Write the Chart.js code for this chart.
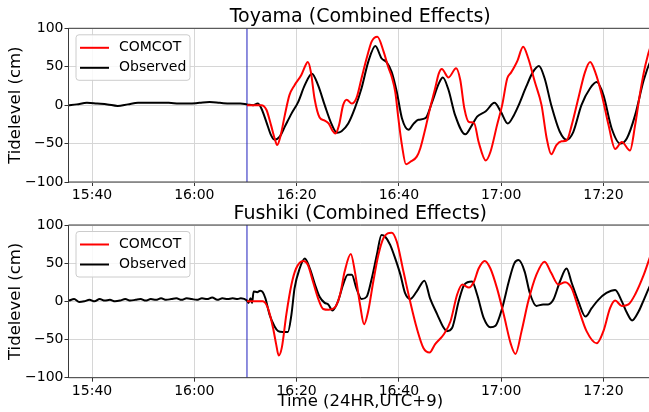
<!DOCTYPE html>
<html>
<head>
<meta charset="utf-8">
<script src="https://cdn.jsdelivr.net/npm/chart.js@4.4.1/dist/chart.umd.min.js"></script>
<style>
    body { margin: 0; background: #fff; }
    #wrap { position: relative; width: 649px; height: 412px; overflow: hidden; }
    canvas { position: absolute; left: 0; }
</style>
</head>
<body>
<div id="wrap">
    <canvas id="toyama" width="652" height="200" style="top:0"></canvas>
    <canvas id="fushiki" width="652" height="212" style="top:200px"></canvas>
</div>
<script>
// time is minutes after 15:00
const xTicks = [40, 60, 80, 100, 120, 140]
const yTicks = [-100, -50, 0, 50, 100]
const xMin = 35.4
const xMax = 149.5
const eventTime = 70.3
const seriesNames = ['COMCOT', 'Observed']

// [minute, cm]
const toyamaComcot = [
    [70.3, 0], [73.1, 0], [74.1, -6], [75.0, -26], [75.7, -43], [76.2, -52], [76.9, -39], [77.7, -13],
    [78.6, 13], [79.6, 26], [80.9, 39], [81.9, 54], [82.2, 56], [82.8, 43], [83.5, 9], [84.5, -16],
    [85.5, -20], [86.3, -24], [87.0, -33], [87.6, -37], [88.3, -26], [89.1, 0], [89.8, 7], [90.8, 2],
    [91.7, 9], [92.7, 35], [93.7, 61], [94.7, 83], [95.8, 89], [97.0, 70], [98.0, 48], [98.6, 37],
    [99.3, 17], [99.9, -17], [100.6, -52], [101.4, -77], [102.2, -74], [103.5, -67], [104.2, -56],
    [105.2, -30], [106.1, -4], [107.1, 22], [107.8, 41], [108.4, 47], [109.7, 36], [111.2, 48],
    [112.0, 33], [112.8, -4], [113.7, -22], [114.7, -23], [115.6, -48], [117.0, -72], [117.9, -61],
    [119.2, -26], [120.2, 0], [121.2, 35], [121.9, 42], [122.6, 50], [123.2, 58], [124.3, 76],
    [125.3, 61], [126.6, 30], [127.9, 0], [128.9, -43], [129.8, -64], [130.8, -52], [131.8, -47],
    [132.8, -46], [133.8, -26], [135.1, 9], [136.4, 43], [137.4, 56], [138.4, 43], [139.7, 13],
    [141.0, -26], [142.3, -57], [143.6, -48], [145.2, -59], [146.2, -26], [147.2, 17], [148.2, 52],
    [149.4, 80], [150.3, 92]
]
const toyamaObserved = [
    [35.4, 0], [37, 1], [39, 3], [41, 2], [43, 1], [45, -1], [47, 1], [49, 3], [51, 3], [53, 3],
    [55, 3], [57, 2], [59, 2], [61, 3], [63, 4], [65, 3], [67, 2], [69, 2], [70.3, 1], [71.5, 0],
    [72.4, 2], [73.1, -4], [74.1, -22], [75.0, -39], [75.7, -45], [76.7, -41], [77.7, -28],
    [79.0, -11], [80.3, 4], [81.6, 26], [83.0, 41], [84.2, 26], [85.5, 0], [86.8, -24], [87.9, -36],
    [88.8, -34], [90.1, -24], [91.4, -4], [92.7, 22], [94.0, 56], [95.4, 77], [96.6, 61],
    [97.6, 56], [98.6, 43], [99.6, 17], [100.6, -17], [101.9, -32], [102.9, -24], [103.8, -19],
    [105.2, -17], [106.5, 4], [107.8, 28], [108.6, 36], [109.7, 20], [111.0, -13], [113.0, -38],
    [114.3, -26], [115.3, -15], [117.0, -8], [118.7, 3], [119.9, -8], [121.3, -24], [122.5, -13],
    [123.3, -2], [124.9, 24], [126.2, 43], [127.4, 51], [128.5, 35], [129.8, 0], [131.5, -35],
    [132.8, -45], [134.1, -35], [135.7, 0], [137.4, 22], [138.7, 30], [140.0, 13], [141.6, -30],
    [143.3, -50], [144.6, -43], [146.2, -13], [147.9, 33], [149.4, 61], [150.3, 72]
]
const fushikiComcot = [
    [70.3, 0], [73.4, 0], [74.4, -9], [75.4, -35], [76.0, -56], [76.5, -71], [77.1, -61], [78.0, -17],
    [79.0, 22], [79.9, 43], [81.3, 53], [82.2, 48], [83.2, 26], [84.2, 4], [85.2, -10], [86.3, -11],
    [87.5, -8], [88.5, 9], [89.4, 39], [90.6, 62], [91.4, 39], [92.4, -4], [93.2, -30], [94.0, -13],
    [95.0, 26], [96.0, 61], [97.0, 83], [98.6, 90], [99.6, 78], [100.9, 39], [102.2, 0],
    [103.5, -35], [104.8, -61], [106.0, -67], [107.1, -56], [108.8, -43], [110.1, -26], [111.4, 9],
    [112.4, 22], [113.7, 18], [114.7, 26], [115.6, 43], [116.8, 53], [117.9, 43], [119.2, 17],
    [120.5, -17], [121.9, -56], [122.8, -69], [124.0, -39], [125.3, 0], [126.9, 35], [128.5, 52],
    [129.8, 37], [131.2, 22], [132.5, 25], [133.8, 17], [135.1, -9], [136.7, -39], [138.7, -55],
    [140.0, -39], [141.3, -9], [142.3, 1], [143.6, -6], [144.9, -4], [146.2, 9], [147.9, 35],
    [149.4, 63], [150.3, 75]
]
const fushikiObserved = [
    [35.5, 1], [36.5, 3], [37.5, -1], [38.5, 0], [39.5, 2], [40.5, 0], [41.5, 3], [42.5, 1],
    [43.5, 2], [44.5, 0], [45.5, 1], [46.5, 3], [47.5, 1], [48.5, 2], [49.5, 3], [50.5, 1],
    [51.5, 3], [52.5, 2], [53.5, 4], [54.5, 2], [55.5, 3], [56.5, 4], [57.5, 2], [58.5, 4],
    [59.5, 3], [60.5, 2], [61.5, 4], [62.5, 3], [63.5, 5], [64.5, 2], [65.5, 4], [66.5, 3],
    [67.5, 4], [68.5, 3], [69.1, 4], [70.3, 1], [70.6, -2], [71.0, 4], [71.3, -2], [71.6, 13],
    [72.3, 12], [72.9, 14], [73.4, 12], [73.9, 4], [74.7, -17], [75.7, -33], [76.4, -39],
    [77.3, -40], [78.3, -40], [79.0, -17], [79.6, 17], [80.6, 43], [81.6, 56], [82.6, 43],
    [83.6, 22], [84.5, 6], [85.5, -2], [86.2, -4], [87.0, -12], [88.1, 0], [89.1, 22], [90.0, 35],
    [90.8, 35], [91.7, 17], [92.7, 3], [93.7, 6], [94.7, 30], [95.7, 61], [96.6, 87], [97.3, 85],
    [98.3, 74], [99.3, 56], [100.3, 35], [101.2, 11], [102.2, 3], [103.5, 13], [105.0, 27],
    [106.1, 4], [107.5, -17], [108.8, -35], [109.4, -39], [110.4, -35], [111.7, 0], [112.8, 22],
    [114.3, 26], [115.3, 9], [116.6, -22], [117.9, -34], [118.9, -32], [120.2, -9], [121.5, 26],
    [122.6, 50], [123.4, 54], [124.6, 39], [125.6, 11], [126.9, -6], [128.2, -4], [129.2, -4],
    [130.2, 2], [131.5, 26], [132.8, 43], [133.8, 24], [135.1, 0], [136.5, -20], [137.7, -9],
    [139.0, 2], [140.6, 11], [142.3, 15], [143.6, 0], [144.6, -15], [145.6, -25], [146.9, -13],
    [147.9, 2], [149.4, 24], [150.3, 30]
]

const FONT = 'DejaVu Sans'

function fmtTime(v) {
    let h = 15 + Math.floor(v / 60)
    let m = Math.round(v % 60)
    return h + ':' + String(m).padStart(2, '0')
}

//frame, title and legend like matplotlib
const decorPlugin = {
    id: 'decor',
    afterDraw(chart, args, opts) {
        const ctx = chart.ctx
        const a = chart.chartArea
        ctx.save()
        ctx.strokeStyle = '#3a3a3a'
        ctx.lineWidth = 1
        ctx.beginPath()
        ctx.moveTo(a.left, a.bottom)
        ctx.lineTo(a.left, a.top)
        ctx.lineTo(a.right + 5, a.top)
        ctx.moveTo(a.left, a.bottom)
        ctx.lineTo(a.right + 5, a.bottom)
        ctx.stroke()

        // title
        ctx.fillStyle = '#000'
        ctx.font = '19px "' + FONT + '"'
        ctx.textAlign = 'center'
        ctx.textBaseline = 'middle'
        ctx.fillText(opts.title, (a.left + a.right) / 2, opts.titleY)

        // legend box
        const bx = a.left + 7.5, by = a.top + 6.5, bw = 114, bh = 45.5
        ctx.fillStyle = 'rgba(255,255,255,0.85)'
        ctx.strokeStyle = '#cccccc'
        ctx.lineWidth = 1
        ctx.beginPath()
        ctx.roundRect(bx, by, bw, bh, 3)
        ctx.fill()
        ctx.stroke()
        const colors = ['#ff0000', '#000000']
        ctx.font = '14px "' + FONT + '"'
        ctx.textAlign = 'left'
        seriesNames.forEach((name, i) => {
            const yy = a.top + 19.5 + i * 20
            ctx.strokeStyle = colors[i]
            ctx.lineWidth = 2
            ctx.beginPath()
            ctx.moveTo(a.left + 11.5, yy)
            ctx.lineTo(a.left + 40.5, yy)
            ctx.stroke()
            ctx.fillStyle = '#000'
            ctx.fillText(name, a.left + 50.5, yy)
        })
        ctx.restore()
    }
}

function makeChart(id, title, comcot, observed, cfg) {
    const toXY = arr => arr.map(p => ({x: p[0], y: p[1]}))
    return new Chart(document.getElementById(id), {
        type: 'line',
        data: {
            datasets: [
                {label: seriesNames[0], data: toXY(comcot), borderColor: '#ff0000', borderWidth: 2,
                    pointRadius: 0, cubicInterpolationMode: 'monotone'},
                {label: seriesNames[1], data: toXY(observed), borderColor: '#000000', borderWidth: 2,
                    pointRadius: 0, cubicInterpolationMode: 'monotone'},
                {label: 'event', data: [{x: eventTime, y: -100}, {x: eventTime, y: 100}],
                    borderColor: 'rgb(30,30,190)', borderWidth: 1, pointRadius: 0}
            ]
        },
        options: {
            responsive: false,
            animation: false,
            devicePixelRatio: 1,
            layout: {padding: {top: cfg.top, left: 0, right: 0, bottom: 0}},
            plugins: {
                legend: {display: false},
                tooltip: {enabled: false},
                decor: {title: title, titleY: cfg.titleY}
            },
            scales: {
                x: {
                    type: 'linear',
                    min: xMin,
                    max: xMax,
                    afterBuildTicks: s => { s.ticks = xTicks.map(v => ({value: v})) },
                    afterFit: s => { s.height = cfg.xh },
                    ticks: {callback: v => fmtTime(v), font: {family: FONT, size: 14}, color: '#000',
                        maxRotation: 0, padding: 1},
                    grid: {color: '#d6d6d6', tickLength: 4, tickColor: '#333'},
                    border: {display: false},
                    title: {display: cfg.xTitle, text: 'Time (24HR,UTC+9)', color: '#000',
                        font: {family: FONT, size: 16.5}, padding: 0}
                },
                y: {
                    min: -100,
                    max: 100,
                    afterBuildTicks: s => { s.ticks = yTicks.map(v => ({value: v})) },
                    afterFit: s => { s.width = 68.5 },
                    ticks: {callback: v => v < 0 ? '\u2212' + (-v) : String(v), font: {family: FONT, size: 14},
                        color: '#000', padding: 1},
                    grid: {color: '#d6d6d6', tickLength: 4, tickColor: '#333'},
                    border: {display: false},
                    title: {display: true, text: 'Tidelevel (cm)', color: '#000',
                        font: {family: FONT, size: 16.5}, padding: {top: 6, bottom: 0}}
                }
            }
        },
        plugins: [decorPlugin]
    })
}

makeChart('toyama', 'Toyama (Combined Effects)', toyamaComcot, toyamaObserved,
    {top: 28.3, xh: 18, titleY: 17.5, xTitle: false})
makeChart('fushiki', 'Fushiki (Combined Effects)', fushikiComcot, fushikiObserved,
    {top: 25, xh: 34.3, titleY: 14.5, xTitle: true})
</script>
</body>
</html>
